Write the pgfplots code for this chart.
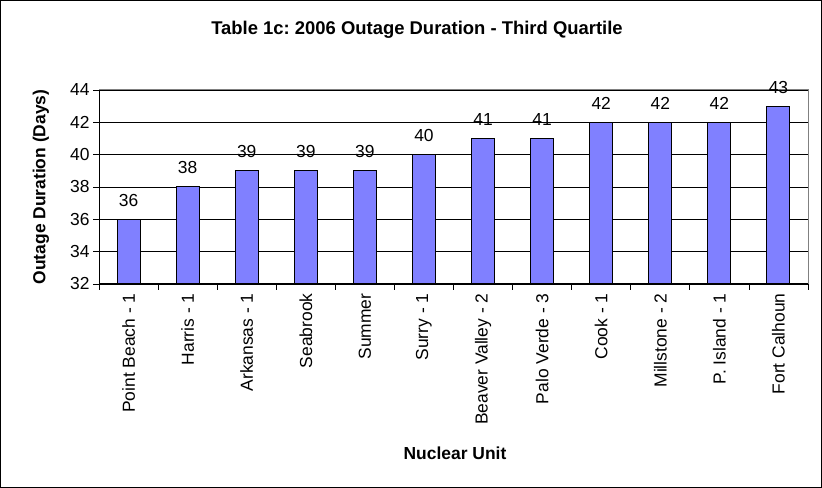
\documentclass[border=0pt]{standalone}
\usepackage{fontspec}
\setmainfont{Liberation Sans}
\usepackage{pgfplots}
\pgfplotsset{compat=1.18}
\definecolor{barblue}{HTML}{8080FF}
\frenchspacing
\begin{document}
\begin{tikzpicture}[x=1bp,y=1bp]
\useasboundingbox (0,0) rectangle (822,488);
\draw[line width=1bp] (0.5,0.5) rectangle (821.5,487.5);
\begin{axis}[
  at={(99bp,204bp)}, anchor=south west,
  scale only axis, width=709bp, height=194bp,
  xmin=-0.5, xmax=11.5, ymin=32, ymax=44,
  ytick={32,34,...,44},
  xtick={0,...,11},
  xticklabels={Point Beach - 1,Harris - 1,Arkansas - 1,Seabrook,Summer,Surry - 1,Beaver Valley - 2,Palo Verde - 3,Cook - 1,Millstone - 2,P. Island - 1,Fort Calhoun},
  minor xtick={-0.5,0.5,...,11.5},
  major x tick style={draw=none},
  tick align=outside,
  tick pos=left,
  major tick length=6bp, minor tick length=6bp,
  tick style={black, line width=0.8bp},
  ymajorgrids, grid style={black, line width=0.8bp},
  axis line style={black, line width=1bp},
  /pgf/number format/assume math mode=true,
  xticklabel style={rotate=90, anchor=east, font=\fontsize{17.5}{20}\selectfont},
  yticklabel style={font=\fontsize{17.5}{20}\selectfont},
  ybar, bar width=23bp,
  clip=false,
  nodes near coords,
  every node near coord/.append style={font=\fontsize{17.5}{20}\selectfont, anchor=base, inner sep=0pt, yshift=13bp},
]
\addplot[fill=barblue, draw=black, line width=1bp] coordinates {
  (0,36) (1,38) (2,39) (3,39) (4,39) (5,40) (6,41) (7,41) (8,42) (9,42) (10,42) (11,43)};
\draw[gray, line width=1bp] (rel axis cs:0,1) -- (rel axis cs:1,1) -- (rel axis cs:1,0);
\end{axis}
\node[font=\bfseries\fontsize{18.5}{22}\selectfont] at (417,458) {Table 1c: 2006 Outage Duration - Third Quartile};
\node[font=\bfseries\fontsize{17.5}{20}\selectfont] at (455,35) {Nuclear Unit};
\node[font=\bfseries\fontsize{17.5}{20}\selectfont, rotate=90] at (41,301) {Outage Duration (Days)};
\end{tikzpicture}
\end{document}
